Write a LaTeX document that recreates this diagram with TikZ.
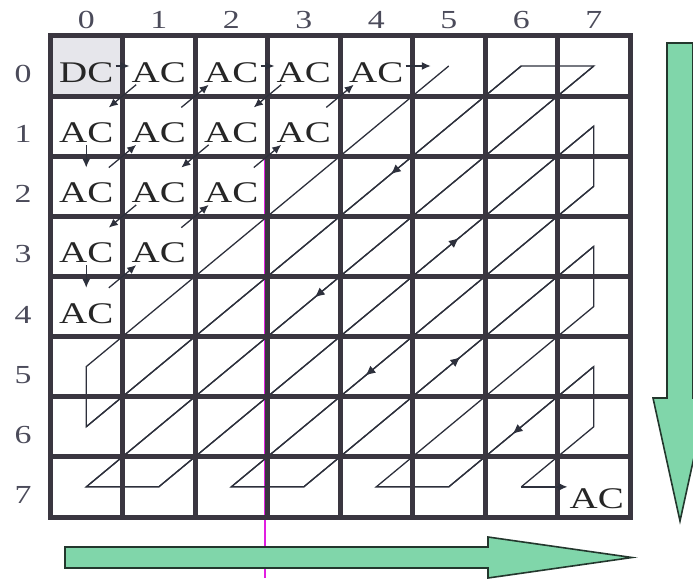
\documentclass[tikz,border=0pt]{standalone}
\usepackage{fontspec}
\setmainfont{Liberation Serif}
\newfontfamily\wideserif[FakeStretch=1.3]{Liberation Serif}
\usetikzlibrary{arrows.meta,decorations.markings,calc}
\definecolor{gridc}{RGB}{58,54,64}
\definecolor{linec}{RGB}{45,48,60}
\definecolor{mint}{RGB}{128,214,170}
\definecolor{mintedge}{RGB}{35,55,45}
\definecolor{dcfill}{RGB}{230,230,235}
\definecolor{magline}{RGB}{225,30,225}
\definecolor{numc}{RGB}{75,75,90}
\begin{document}
\begin{tikzpicture}[x=1pt,y=-1pt,
  gridline/.style={draw=gridc,line width=5pt,line cap=rect},
  lab/.style={font=\wideserif\fontsize{30}{30}\selectfont,text=black!85,
    inner xsep=2pt,inner ysep=2pt,text height=33pt,text depth=0pt,
    minimum width=58pt},
  num/.style={font=\wideserif\fontsize{26}{26}\selectfont,text=numc,inner sep=0pt},
  zz/.style={draw=linec,line width=1.3pt},
  tip/.style={-{Latex[length=9pt,width=8pt]}},
  greenarrow/.style={fill=mint,draw=mintedge,line width=1.6pt,line join=miter},
  midfwd/.style={postaction={decorate},decoration={markings,
    mark=at position #1 with {\arrow{Latex[length=10pt,width=9pt]}}}},
  midrev/.style={postaction={decorate},decoration={markings,
    mark=at position #1 with {\arrowreversed{Latex[length=10pt,width=9pt]}}}}]
\useasboundingbox (0,0) rectangle (693,578);

% cell centres
\foreach \r in {0,...,7}{
  \foreach \c in {0,...,7}{
    \coordinate (c-\r-\c) at ({86.25+72.5*\c},{66+60.125*\r});
  }
}

% DC cell fill
\fill[dcfill] (50,36) rectangle (122.5,96.125);

% stray magenta line
\draw[magline,line width=1.3pt] (265,157) -- (265,578);

% zigzag in the empty part
\draw[zz] (c-0-5) -- (c-5-0) -- (c-6-0) -- (c-0-6) -- (c-0-7) -- (c-7-0)
  -- (c-7-1) -- (c-1-7) -- (c-2-7) -- (c-7-2) -- (c-7-3) -- (c-3-7)
  -- (c-4-7) -- (c-7-4) -- (c-7-5) -- (c-5-7) -- (c-6-7) -- (c-7-6);
\draw[zz,midrev=0.7] (c-6-0) -- (c-0-6);
\draw[zz,midfwd=0.69] (c-7-1) -- (c-1-7);
\draw[zz,midfwd=0.55] (c-0-7) -- (c-7-0);
\draw[zz,midfwd=0.63] (c-2-7) -- (c-7-2);
\draw[zz,midfwd=0.54] (c-7-3) -- (c-3-7);
\draw[zz,midrev=0.44] (c-7-5) -- (c-5-7);

% grid
\foreach \i in {0,...,8}{
  \draw[gridline] ({50+72.5*\i},36) -- ({50+72.5*\i},517);
  \draw[gridline] (50,{36+60.125*\i}) -- (630,{36+60.125*\i});
}
\draw[gridc,line width=3pt] (557.5,36) -- (557.5,517);

% labels
\node[lab] (n-0-0) at (c-0-0) {DC};
\foreach \r/\c in {0/1,0/2,0/3,0/4,1/0,1/1,1/2,1/3,2/0,2/1,2/2,3/0,3/1,4/0}{
  \node[lab] (n-\r-\c) at (c-\r-\c) {AC};
}
\node[lab] (n-7-7) at ($(c-7-7)+(3,5)$) {AC};

% zigzag in the labelled part
\foreach \a/\b in {0-0/0-1,0-1/1-0,1-0/2-0,2-0/1-1,1-1/0-2,0-2/0-3,0-3/1-2,
  1-2/2-1,2-1/3-0,3-0/4-0,4-0/3-1,3-1/2-2,2-2/1-3,1-3/0-4}{
  \draw[zz,tip] (n-\a) -- (n-\b);
}
\draw[zz,tip,shorten >=18pt] (n-0-4) -- (c-0-5);
\draw[zz,tip] (c-7-6) -- (c-7-6 -| n-7-7.west);

% row and column numbers
\foreach \i in {0,...,7}{
  \node[num] (col-\i) at ({86.25+72.5*\i},20) {\i};
  \node[num] (row-\i) at (23,{74+60.125*\i}) {\i};
}

% green direction arrows
\draw[greenarrow] (667,43) -- (693,43) -- (693,398) -- (707,398) -- (680,521)
  -- (653,398) -- (667,398) -- cycle;
\draw[greenarrow] (65,547) -- (488,547) -- (488,537) -- (632,557.5)
  -- (488,578) -- (488,568) -- (65,568) -- cycle;
\end{tikzpicture}
\end{document}
